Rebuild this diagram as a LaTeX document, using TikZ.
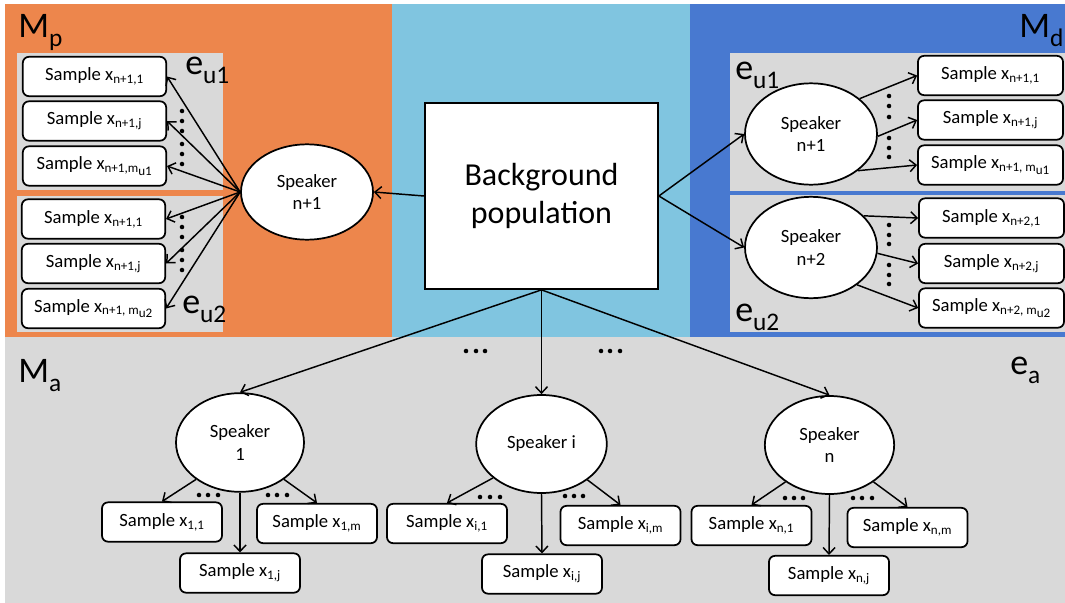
\documentclass[tikz,border=0pt]{standalone}
\usepackage{fontspec}
\setmainfont{Carlito}
\usetikzlibrary{arrows.meta,shapes.geometric}

\definecolor{orangep}{RGB}{237,134,76}
\definecolor{skyp}{RGB}{128,197,224}
\definecolor{bluep}{RGB}{72,121,208}
\definecolor{grayp}{RGB}{217,217,217}

\newcommand\smpfont{\fontsize{14}{17}\selectfont}
\newcommand\bigfont{\fontsize{24}{29}\selectfont}
\newcommand\lblfont{\fontsize{27}{30}\selectfont}
\newcommand\lowsub[1]{\raisebox{-0.26em}{\fontsize{19}{20}\selectfont #1}}
% second-level index, kept at the size of the first-level one
\newcommand\subsub[1]{\raisebox{-0.22em}{#1}}

\tikzset{
  sample/.style={draw, line width=1.3pt, fill=white, rounded corners=4.5pt,
    inner sep=0pt, minimum height=29.5pt, font=\smpfont},
  sampleside/.style={sample, minimum width=107.5pt},
  samplebot/.style={sample, minimum width=90pt},
  speaker/.style={draw, line width=1.3pt, fill=white, ellipse, inner sep=0pt,
    align=center, font=\smpfont},
  conn/.style={line width=1.1pt, -{Straight Barb[length=4.8pt,width=9pt]}},
  lbl/.style={anchor=base west, inner sep=0pt, font=\lblfont},
  dot/.style={fill=black}
}

\begin{document}
\begin{tikzpicture}[x=0.75pt,y=-0.75pt]
\useasboundingbox (0,0) rectangle (1065,603);

% panels
\fill[orangep] (5,4) rectangle (392,337);
\fill[skyp] (392,4) rectangle (690,337);
\fill[bluep] (690,4) rectangle (1065,337);
\fill[grayp] (5,337) rectangle (1065,603);
\fill[grayp] (17,53) rectangle (223,190);
\fill[grayp] (17,196) rectangle (223,332);
\fill[grayp] (730,53) rectangle (1065,191);
\fill[grayp] (730,195) rectangle (1065,332);

% panel labels
\node[lbl] (mp) at (18,37) {M\lowsub{p}};
\node[lbl] (md) at (1019,37) {M\lowsub{d}};
\node[lbl] (ma) at (18,382) {M\lowsub{a}};
\node[lbl] (ea) at (1010,374) {e\lowsub{a}};
\node[lbl] (lu1) at (185,74) {e\lowsub{u1}};
\node[lbl] (lu2) at (182,313) {e\lowsub{u2}};
\node[lbl] (ru1) at (735,79) {e\lowsub{u1}};
\node[lbl] (ru2) at (735,321) {e\lowsub{u2}};

% central node
\node[draw, line width=1.3pt, fill=white, minimum width=174.75pt, minimum height=139.5pt,
  inner sep=0pt, align=center, font=\bigfont] (bg) at (541.5,196) {Background\\population};

% speaker nodes
\node[speaker, minimum width=99pt, minimum height=71.5pt] (spl) at (307,192) {Speaker\\n+1};
\node[speaker, minimum width=99pt, minimum height=76pt] (spr1) at (811,134) {Speaker\\n+1};
\node[speaker, minimum width=99pt, minimum height=76pt] (spr2) at (811,247.5) {Speaker\\n+2};
\node[speaker, minimum width=96pt, minimum height=74pt] (sp1) at (240,442.5) {Speaker\\1};
\node[speaker, minimum width=98pt, minimum height=73.5pt] (spi) at (541.5,444) {Speaker i};
\node[speaker, minimum width=97pt, minimum height=73.5pt] (spn) at (829.5,445) {Speaker\\n};

% samples of the left speaker
\node[sampleside] (l1) at (94.5,76.5) {Sample x\textsubscript{n+1,1}};
\node[sampleside] (l2) at (94.5,121) {Sample x\textsubscript{n+1,j}};
\node[sampleside] (l3) at (94.5,166) {Sample x\textsubscript{n+1,m\subsub{u1}}};
\node[sampleside] (l4) at (93.5,219) {Sample x\textsubscript{n+1,1}};
\node[sampleside] (l5) at (93.5,263.5) {Sample x\textsubscript{n+1,j}};
\node[sampleside] (l6) at (93.5,308.5) {Sample x\textsubscript{n+1, m\subsub{u2}}};

% samples of the right speakers
\node[sampleside, minimum width=108.75pt] (r1) at (990.5,75.5) {Sample x\textsubscript{n+1,1}};
\node[sampleside, minimum width=108.75pt] (r2) at (990.5,120) {Sample x\textsubscript{n+1,j}};
\node[sampleside, minimum width=108.75pt] (r3) at (990.5,165) {Sample x\textsubscript{n+1, m\subsub{u1}}};
\node[sampleside, minimum width=108.75pt] (r4) at (991.5,218) {Sample x\textsubscript{n+2,1}};
\node[sampleside, minimum width=108.75pt] (r5) at (991.5,263.5) {Sample x\textsubscript{n+2,j}};
\node[sampleside, minimum width=108.75pt] (r6) at (991.5,308) {Sample x\textsubscript{n+2, m\subsub{u2}}};

% samples of the bottom speakers
\node[samplebot] (s11) at (162,522) {Sample x\textsubscript{1,1}};
\node[samplebot] (s1j) at (240,573) {Sample x\textsubscript{1,j}};
\node[samplebot] (s1m) at (317,523.5) {Sample x\textsubscript{1,m}};
\node[samplebot] (si1) at (447,523.5) {Sample x\textsubscript{i,1}};
\node[samplebot] (sij) at (542,574) {Sample x\textsubscript{i,j}};
\node[samplebot] (sim) at (620.5,525.5) {Sample x\textsubscript{i,m}};
\node[samplebot] (sn1) at (751.5,525.5) {Sample x\textsubscript{n,1}};
\node[samplebot] (snj) at (829,575.5) {Sample x\textsubscript{n,j}};
\node[samplebot] (snm) at (907.5,527.5) {Sample x\textsubscript{n,m}};

% connectors from the background population
\draw[conn] (bg.west) -- (spl.east);
\draw[conn] (bg.east) -- (spr1.west);
\draw[conn] (bg.east) -- (spr2.west);
\draw[conn] (bg.south) -- (sp1.north);
\draw[conn] (bg.south) -- (spi.north);
\draw[conn] (bg.south) -- (spn.north);

% left speaker to its samples
\foreach \b in {l1,l2,l3,l4,l5,l6}
  \draw[conn] (spl.west) -- (\b.east);

% right speakers to their samples
\draw[conn] (spr1.36) -- (r1.west);
\draw[conn] (spr1.-2) -- (r2.west);
\draw[conn] (spr1.-38) -- (r3.west);
\draw[conn] (spr2.31) -- (r4.west);
\draw[conn] (spr2.-5) -- (r5.west);
\draw[conn] (spr2.-39) -- (r6.west);

% bottom speakers to their samples
\draw[conn] (sp1.-140) -- (s11.north);
\draw[conn] (sp1.south) -- (s1j.north);
\draw[conn] (sp1.-40) -- (s1m.north);
\draw[conn] (spi.-145) -- (si1.north);
\draw[conn] (spi.south) -- (sij.north);
\draw[conn] (spi.-38) -- (sim.north);
\draw[conn] (spn.-140) -- (sn1.north);
\draw[conn] (spn.south) -- (snj.north);
\draw[conn] (spn.-40) -- (snm.north);

% vertical ellipsis dots
\foreach \y in {111,121,131,144,154,164,217,227,237,250,260,270}
  \fill[dot] (182,\y) circle[radius=1.7pt];
\foreach \y in {96,106,117,138,148,157,225,235,244,265,275,284}
  \fill[dot] (889,\y) circle[radius=1.7pt];

% horizontal ellipsis dots
\foreach \x/\y in {466/351,476/351,485/351,601/351,610/351,620/351,
                   199/495,208/495,218/495,268/495,277/495,287/495,
                   480/497,490/497,500/497,565/496,574/496,583/496,
                   785/498,794/498,803/498,853/498,862/498,872/498}
  \fill[dot] (\x,\y) circle[radius=1.7pt];
\end{tikzpicture}
\end{document}
